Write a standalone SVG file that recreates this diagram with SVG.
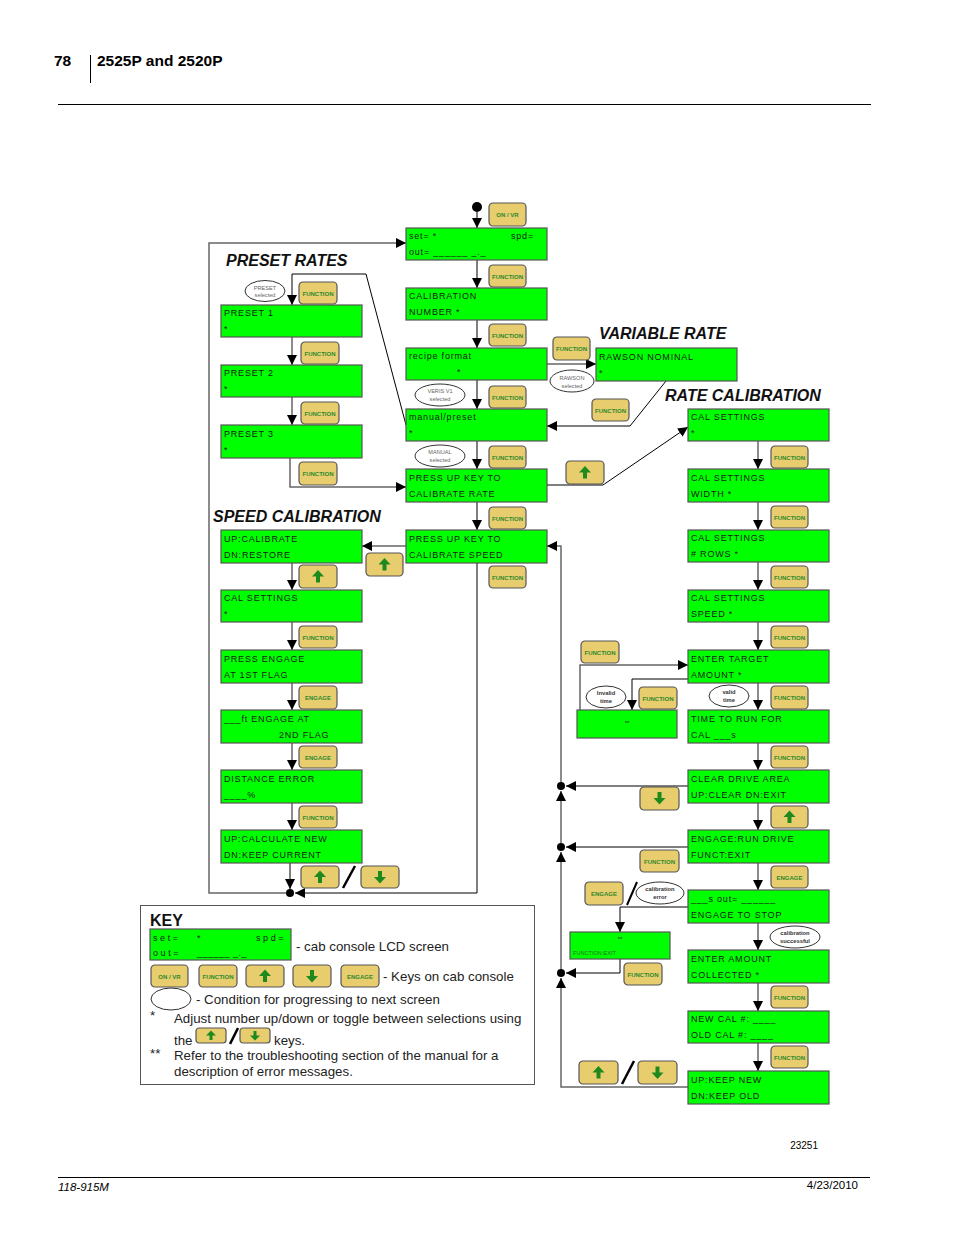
<svg xmlns="http://www.w3.org/2000/svg" width="954" height="1235" viewBox="0 0 954 1235">
<style>
.lcd{fill:#00ff00;stroke:#555;stroke-width:1.2}
.lt{font-family:"Liberation Sans",Arial,sans-serif;font-size:9px;letter-spacing:0.8px;fill:#1a1a1a}
.k{fill:#e8cd6f;stroke:#555;stroke-width:1.2}
.kt{font-family:"Liberation Sans",Arial,sans-serif;font-size:6px;font-weight:bold;fill:#2d8a2d;text-anchor:middle}
.ar{fill:#1e8a1e}
.el{fill:#fff;stroke:#333;stroke-width:1}
.et{font-family:"Liberation Sans",Arial,sans-serif;font-size:5.6px;fill:#666;text-anchor:middle}
.eb{font-family:"Liberation Sans",Arial,sans-serif;font-size:5.8px;font-weight:bold;fill:#333;text-anchor:middle}
.ln{stroke:#666;stroke-width:1.5;fill:none}
.lb{stroke:#000;stroke-width:1;fill:none}
.ti{font-family:"Liberation Sans",Arial,sans-serif;font-size:16px;font-weight:bold;font-style:italic;fill:#111}
.kx{font-family:"Liberation Sans",Arial,sans-serif;font-size:13.3px;fill:#222}
.hd{font-family:"Liberation Sans",Arial,sans-serif;font-size:15.5px;font-weight:bold;fill:#000}
.ft{font-family:"Liberation Sans",Arial,sans-serif;font-size:11.5px;fill:#000}
</style>
<defs>
<marker id="a" viewBox="0 0 10 10" refX="10" refY="5" markerWidth="10" markerHeight="10" markerUnits="userSpaceOnUse" orient="auto"><path d="M0,0 L10,5 L0,10 z" fill="#000"/></marker>
</defs>
<rect width="954" height="1235" fill="#fff"/>
<g id="header">
<text class="hd" x="54" y="66">78</text>
<line x1="90.5" y1="55" x2="90.5" y2="83" stroke="#000" stroke-width="1"/>
<text class="hd" x="97" y="66">2525P and 2520P</text>
<line x1="58" y1="104.5" x2="871" y2="104.5" stroke="#000" stroke-width="1"/>
</g>
<g id="footer">
<text class="ft" x="818" y="1149" text-anchor="end" style="font-size:10px">23251</text>
<line x1="58" y1="1177.5" x2="870" y2="1177.5" stroke="#000" stroke-width="1"/>
<text class="ft" x="58" y="1191" style="font-style:italic">118-915M</text>
<text class="ft" x="858" y="1189" text-anchor="end">4/23/2010</text>
</g>
<g id="titles">
<text class="ti" x="226" y="266">PRESET RATES</text>
<text class="ti" x="213" y="522">SPEED CALIBRATION</text>
<text class="ti" x="599" y="339">VARIABLE RATE</text>
<text class="ti" x="665" y="401">RATE CALIBRATION</text>
</g>
<g id="connectors">
<circle cx="477" cy="207" r="5" fill="#000"/>
<line class="lb" x1="477" y1="212" x2="477" y2="228" marker-end="url(#a)"/>
<line class="lb" x1="477" y1="260" x2="477" y2="288" marker-end="url(#a)"/>
<line class="lb" x1="477" y1="320" x2="477" y2="348" marker-end="url(#a)"/>
<line class="lb" x1="477" y1="380" x2="477" y2="409" marker-end="url(#a)"/>
<line class="lb" x1="477" y1="441" x2="477" y2="469" marker-end="url(#a)"/>
<line class="lb" x1="477" y1="502" x2="477" y2="530" marker-end="url(#a)"/>
<polyline class="lb" points="477,563 477,893 295,893" marker-end="url(#a)"/>
<polyline class="ln" points="286,893 209,893 209,243 406,243" marker-end="url(#a)"/>
<circle cx="290" cy="893" r="4" fill="#000"/>
<polyline class="lb" points="406,425 366,274 292,274 292,305" marker-end="url(#a)"/>
<line class="ln" x1="292" y1="337" x2="292" y2="365" marker-end="url(#a)"/>
<line class="ln" x1="292" y1="397" x2="292" y2="425" marker-end="url(#a)"/>
<polyline class="ln" points="290,458 290,487 406,487" marker-end="url(#a)"/>
<line class="ln" x1="547" y1="364" x2="596" y2="364" marker-end="url(#a)"/>
<polyline class="lb" points="666,381 630,426 547,426" marker-end="url(#a)"/>
<polyline class="lb" points="547,485 603,485 688,427" marker-end="url(#a)"/>
<line class="ln" x1="406" y1="546" x2="362" y2="546" marker-end="url(#a)"/>
<line class="ln" x1="292" y1="563" x2="292" y2="590" marker-end="url(#a)"/>
<line class="ln" x1="292" y1="622" x2="292" y2="650" marker-end="url(#a)"/>
<line class="ln" x1="292" y1="683" x2="292" y2="710" marker-end="url(#a)"/>
<line class="ln" x1="292" y1="743" x2="292" y2="770" marker-end="url(#a)"/>
<line class="ln" x1="292" y1="803" x2="292" y2="830" marker-end="url(#a)"/>
<line class="lb" x1="290" y1="863" x2="290" y2="889" marker-end="url(#a)"/>
<polyline class="ln" points="688,1087 561,1087 561,978" marker-end="url(#a)"/>
<line class="ln" x1="561" y1="969" x2="561" y2="852" marker-end="url(#a)"/>
<line class="ln" x1="561" y1="843" x2="561" y2="791" marker-end="url(#a)"/>
<polyline class="ln" points="561,782 561,546 547,546" marker-end="url(#a)"/>
<circle cx="561" cy="786" r="4" fill="#000"/>
<circle cx="561" cy="847" r="4" fill="#000"/>
<circle cx="561" cy="973" r="4" fill="#000"/>
<line class="lb" x1="688" y1="786" x2="566" y2="786" marker-end="url(#a)"/>
<line class="lb" x1="688" y1="847" x2="566" y2="847" marker-end="url(#a)"/>
<polyline class="lb" points="620,959 620,973 566,973" marker-end="url(#a)"/>
<line class="ln" x1="758" y1="441" x2="758" y2="469" marker-end="url(#a)"/>
<line class="ln" x1="758" y1="502" x2="758" y2="530" marker-end="url(#a)"/>
<line class="ln" x1="758" y1="562" x2="758" y2="590" marker-end="url(#a)"/>
<line class="ln" x1="758" y1="622" x2="758" y2="650" marker-end="url(#a)"/>
<line class="ln" x1="758" y1="683" x2="758" y2="710" marker-end="url(#a)"/>
<line class="ln" x1="758" y1="743" x2="758" y2="770" marker-end="url(#a)"/>
<line class="ln" x1="758" y1="803" x2="758" y2="830" marker-end="url(#a)"/>
<line class="ln" x1="758" y1="863" x2="758" y2="890" marker-end="url(#a)"/>
<line class="ln" x1="758" y1="923" x2="758" y2="950" marker-end="url(#a)"/>
<line class="ln" x1="758" y1="983" x2="758" y2="1011" marker-end="url(#a)"/>
<line class="ln" x1="758" y1="1043" x2="758" y2="1071" marker-end="url(#a)"/>
<polyline class="ln" points="580,710 580,665 688,665" marker-end="url(#a)"/>
<polyline class="lb" points="688,679 632,679 632,710" marker-end="url(#a)"/>
<polyline class="lb" points="688,907 620,907 620,932" marker-end="url(#a)"/>
<line x1="343" y1="888" x2="355" y2="866" stroke="#000" stroke-width="2.5"/>
<line x1="622" y1="1084" x2="634" y2="1061" stroke="#000" stroke-width="2.5"/>
<line x1="627" y1="905" x2="637" y2="882" stroke="#000" stroke-width="2"/>
</g>
<g id="lcd-center">
<g id="n-set"><rect class="lcd" x="406" y="228" width="141" height="32"/><text class="lt" x="409" y="239">set= *</text><text class="lt" x="511" y="239">spd=</text><text class="lt" x="409" y="255">out= ______ _._</text></g>
<g id="n-calnum"><rect class="lcd" x="406" y="288" width="141" height="32"/><text class="lt" x="409" y="299">CALIBRATION</text><text class="lt" x="409" y="315">NUMBER *</text></g>
<g id="n-recipe"><rect class="lcd" x="406" y="348" width="141" height="32"/><text class="lt" x="409" y="359">recipe format</text><text class="lt" x="457" y="375">*</text></g>
<g id="n-manual"><rect class="lcd" x="406" y="409" width="141" height="32"/><text class="lt" x="409" y="420">manual/preset</text><text class="lt" x="409" y="436">*</text></g>
<g id="n-pressrate"><rect class="lcd" x="406" y="469" width="141" height="33"/><text class="lt" x="409" y="481">PRESS UP KEY TO</text><text class="lt" x="409" y="497">CALIBRATE RATE</text></g>
<g id="n-pressspeed"><rect class="lcd" x="406" y="530" width="141" height="33"/><text class="lt" x="409" y="542">PRESS UP KEY TO</text><text class="lt" x="409" y="558">CALIBRATE SPEED</text></g>
</g>
<g id="lcd-left">
<g id="n-p1"><rect class="lcd" x="221" y="305" width="141" height="32"/><text class="lt" x="224" y="316">PRESET 1</text><text class="lt" x="224" y="332">*</text></g>
<g id="n-p2"><rect class="lcd" x="221" y="365" width="141" height="32"/><text class="lt" x="224" y="376">PRESET 2</text><text class="lt" x="224" y="392">*</text></g>
<g id="n-p3"><rect class="lcd" x="221" y="425" width="141" height="33"/><text class="lt" x="224" y="437">PRESET 3</text><text class="lt" x="224" y="453">*</text></g>
<g id="n-upcal"><rect class="lcd" x="221" y="530" width="141" height="33"/><text class="lt" x="224" y="542">UP:CALIBRATE</text><text class="lt" x="224" y="558">DN:RESTORE</text></g>
<g id="n-calset-l"><rect class="lcd" x="221" y="590" width="141" height="32"/><text class="lt" x="224" y="601">CAL SETTINGS</text><text class="lt" x="224" y="617">*</text></g>
<g id="n-press1st"><rect class="lcd" x="221" y="650" width="141" height="33"/><text class="lt" x="224" y="662">PRESS ENGAGE</text><text class="lt" x="224" y="678">AT 1ST FLAG</text></g>
<g id="n-ft2nd"><rect class="lcd" x="221" y="710" width="141" height="33"/><text class="lt" x="224" y="722">___ft ENGAGE AT</text><text class="lt" x="279" y="738">2ND FLAG</text></g>
<g id="n-dist"><rect class="lcd" x="221" y="770" width="141" height="33"/><text class="lt" x="224" y="782">DISTANCE ERROR</text><text class="lt" x="224" y="798">____%</text></g>
<g id="n-calcnew"><rect class="lcd" x="221" y="830" width="141" height="33"/><text class="lt" x="224" y="842">UP:CALCULATE NEW</text><text class="lt" x="224" y="858">DN:KEEP CURRENT</text></g>
</g>
<g id="lcd-right">
<g id="n-rawson"><rect class="lcd" x="596" y="348" width="141" height="33"/><text class="lt" x="599" y="360">RAWSON NOMINAL</text><text class="lt" x="599" y="376">*</text></g>
<g id="n-cs1"><rect class="lcd" x="688" y="409" width="141" height="32"/><text class="lt" x="691" y="420">CAL SETTINGS</text><text class="lt" x="691" y="436">*</text></g>
<g id="n-cs2"><rect class="lcd" x="688" y="469" width="141" height="33"/><text class="lt" x="691" y="481">CAL SETTINGS</text><text class="lt" x="691" y="497">WIDTH  *</text></g>
<g id="n-cs3"><rect class="lcd" x="688" y="530" width="141" height="32"/><text class="lt" x="691" y="541">CAL SETTINGS</text><text class="lt" x="691" y="557"># ROWS  *</text></g>
<g id="n-cs4"><rect class="lcd" x="688" y="590" width="141" height="32"/><text class="lt" x="691" y="601">CAL SETTINGS</text><text class="lt" x="691" y="617">SPEED  *</text></g>
<g id="n-target"><rect class="lcd" x="688" y="650" width="141" height="33"/><text class="lt" x="691" y="662">ENTER TARGET</text><text class="lt" x="691" y="678">AMOUNT *</text></g>
<g id="n-time"><rect class="lcd" x="688" y="710" width="141" height="33"/><text class="lt" x="691" y="722">TIME TO RUN FOR</text><text class="lt" x="691" y="738">CAL ___s</text></g>
<g id="n-clear"><rect class="lcd" x="688" y="770" width="141" height="33"/><text class="lt" x="691" y="782">CLEAR DRIVE AREA</text><text class="lt" x="691" y="798">UP:CLEAR DN:EXIT</text></g>
<g id="n-run"><rect class="lcd" x="688" y="830" width="141" height="33"/><text class="lt" x="691" y="842">ENGAGE:RUN DRIVE</text><text class="lt" x="691" y="858">FUNCT:EXIT</text></g>
<g id="n-sout"><rect class="lcd" x="688" y="890" width="141" height="33"/><text class="lt" x="691" y="902">___s out= ______</text><text class="lt" x="691" y="918">ENGAGE TO STOP</text></g>
<g id="n-collected"><rect class="lcd" x="688" y="950" width="141" height="33"/><text class="lt" x="691" y="962">ENTER AMOUNT</text><text class="lt" x="691" y="978">COLLECTED *</text></g>
<g id="n-newcal"><rect class="lcd" x="688" y="1011" width="141" height="32"/><text class="lt" x="691" y="1022">NEW CAL #: ____</text><text class="lt" x="691" y="1038">OLD CAL #: ____</text></g>
<g id="n-keep"><rect class="lcd" x="688" y="1071" width="141" height="33"/><text class="lt" x="691" y="1083">UP:KEEP NEW</text><text class="lt" x="691" y="1099">DN:KEEP OLD</text></g>
<g id="n-err1"><rect class="lcd" x="577" y="710" width="100" height="28"/><text class="lt" x="627" y="725" text-anchor="middle" style="font-size:6px;letter-spacing:0">**</text></g>
<g id="n-err2"><rect class="lcd" x="570" y="932" width="100" height="27"/><text class="lt" x="620" y="941" text-anchor="middle" style="font-size:6px;letter-spacing:0">**</text><text class="lt" x="573" y="955" style="font-size:5.6px;letter-spacing:0;fill:#2d6a2d">FUNCTION:EXIT</text></g>
</g>
<g id="conditions">
<g><ellipse class="el" cx="265" cy="291" rx="20" ry="10.5"/><text class="et" x="265" y="290">PRESET</text><text class="et" x="265" y="297">selected</text></g>
<g><ellipse class="el" cx="440" cy="395" rx="25" ry="11"/><text class="et" x="440" y="393">VERIS V1</text><text class="et" x="440" y="401">selected</text></g>
<g><ellipse class="el" cx="440" cy="456" rx="25" ry="11"/><text class="et" x="440" y="454">MANUAL</text><text class="et" x="440" y="462">selected</text></g>
<g><ellipse class="el" cx="572" cy="381" rx="22" ry="11"/><text class="et" x="572" y="380">RAWSON</text><text class="et" x="572" y="388">selected</text></g>
<g><ellipse class="el" cx="606" cy="697" rx="20" ry="11"/><text class="eb" x="606" y="695">Invalid</text><text class="eb" x="606" y="703">time</text></g>
<g><ellipse class="el" cx="729" cy="696" rx="20" ry="11"/><text class="eb" x="729" y="694">valid</text><text class="eb" x="729" y="702">time</text></g>
<g><ellipse class="el" cx="660" cy="893" rx="24" ry="11"/><text class="eb" x="660" y="891">calibration</text><text class="eb" x="660" y="899">error</text></g>
<g><ellipse class="el" cx="795" cy="937" rx="25" ry="11"/><text class="eb" x="795" y="935">calibration</text><text class="eb" x="795" y="943">successful</text></g>
</g>
<g id="keys">
<g transform="translate(489,203)"><rect class="k" width="37" height="23" rx="4"/><text class="kt" x="18.5" y="14">ON / VR</text></g>
<g transform="translate(489,265)"><rect class="k" width="37" height="22" rx="4"/><text class="kt" x="18.5" y="13.5">FUNCTION</text></g>
<g transform="translate(489,324)"><rect class="k" width="37" height="22" rx="4"/><text class="kt" x="18.5" y="13.5">FUNCTION</text></g>
<g transform="translate(489,386)"><rect class="k" width="37" height="22" rx="4"/><text class="kt" x="18.5" y="13.5">FUNCTION</text></g>
<g transform="translate(489,446)"><rect class="k" width="37" height="22" rx="4"/><text class="kt" x="18.5" y="13.5">FUNCTION</text></g>
<g transform="translate(489,507)"><rect class="k" width="37" height="22" rx="4"/><text class="kt" x="18.5" y="13.5">FUNCTION</text></g>
<g transform="translate(489,566)"><rect class="k" width="37" height="22" rx="4"/><text class="kt" x="18.5" y="13.5">FUNCTION</text></g>
<g transform="translate(553,337)"><rect class="k" width="37" height="23" rx="4"/><text class="kt" x="18.5" y="14">FUNCTION</text></g>
<g transform="translate(592,399)"><rect class="k" width="37" height="22" rx="4"/><text class="kt" x="18.5" y="13.5">FUNCTION</text></g>
<g transform="translate(566,461)"><rect class="k" width="38" height="23" rx="4"/><path class="ar" d="M19,5 l-6,6.5 h4 v6 h4 v-6 h4 z"/></g>
<g transform="translate(366,553)"><rect class="k" width="37" height="23" rx="4"/><path class="ar" d="M18.5,5 l-6,6.5 h4 v6 h4 v-6 h4 z"/></g>
<g transform="translate(299,282)"><rect class="k" width="38" height="22" rx="4"/><text class="kt" x="19" y="13.5">FUNCTION</text></g>
<g transform="translate(301,342)"><rect class="k" width="38" height="22" rx="4"/><text class="kt" x="19" y="13.5">FUNCTION</text></g>
<g transform="translate(301,402)"><rect class="k" width="38" height="22" rx="4"/><text class="kt" x="19" y="13.5">FUNCTION</text></g>
<g transform="translate(299,462)"><rect class="k" width="38" height="23" rx="4"/><text class="kt" x="19" y="14">FUNCTION</text></g>
<g transform="translate(299,565)"><rect class="k" width="38" height="23" rx="4"/><path class="ar" d="M19,5 l-6,6.5 h4 v6 h4 v-6 h4 z"/></g>
<g transform="translate(299,626)"><rect class="k" width="38" height="22" rx="4"/><text class="kt" x="19" y="13.5">FUNCTION</text></g>
<g transform="translate(299,686)"><rect class="k" width="38" height="23" rx="4"/><text class="kt" x="19" y="14">ENGAGE</text></g>
<g transform="translate(299,746)"><rect class="k" width="38" height="22" rx="4"/><text class="kt" x="19" y="13.5">ENGAGE</text></g>
<g transform="translate(299,806)"><rect class="k" width="38" height="22" rx="4"/><text class="kt" x="19" y="13.5">FUNCTION</text></g>
<g transform="translate(301,866)"><rect class="k" width="38" height="22" rx="4"/><path class="ar" d="M19,4.5 l-6,6.5 h4 v6 h4 v-6 h4 z"/></g>
<g transform="translate(361,866)"><rect class="k" width="38" height="22" rx="4"/><path class="ar" d="M19,17.5 l-6,-6.5 h4 v-6 h4 v6 h4 z"/></g>
<g transform="translate(771,446)"><rect class="k" width="37" height="22" rx="4"/><text class="kt" x="18.5" y="13.5">FUNCTION</text></g>
<g transform="translate(771,506)"><rect class="k" width="37" height="22" rx="4"/><text class="kt" x="18.5" y="13.5">FUNCTION</text></g>
<g transform="translate(771,566)"><rect class="k" width="37" height="22" rx="4"/><text class="kt" x="18.5" y="13.5">FUNCTION</text></g>
<g transform="translate(771,626)"><rect class="k" width="37" height="22" rx="4"/><text class="kt" x="18.5" y="13.5">FUNCTION</text></g>
<g transform="translate(771,686)"><rect class="k" width="37" height="23" rx="4"/><text class="kt" x="18.5" y="14">FUNCTION</text></g>
<g transform="translate(771,746)"><rect class="k" width="37" height="22" rx="4"/><text class="kt" x="18.5" y="13.5">FUNCTION</text></g>
<g transform="translate(771,806)"><rect class="k" width="37" height="22" rx="4"/><path class="ar" d="M18.5,4.5 l-6,6.5 h4 v6 h4 v-6 h4 z"/></g>
<g transform="translate(771,866)"><rect class="k" width="37" height="22" rx="4"/><text class="kt" x="18.5" y="13.5">ENGAGE</text></g>
<g transform="translate(771,986)"><rect class="k" width="37" height="22" rx="4"/><text class="kt" x="18.5" y="13.5">FUNCTION</text></g>
<g transform="translate(771,1046)"><rect class="k" width="37" height="22" rx="4"/><text class="kt" x="18.5" y="13.5">FUNCTION</text></g>
<g transform="translate(581,641)"><rect class="k" width="38" height="22" rx="4"/><text class="kt" x="19" y="13.5">FUNCTION</text></g>
<g transform="translate(639,687)"><rect class="k" width="38" height="22" rx="4"/><text class="kt" x="19" y="13.5">FUNCTION</text></g>
<g transform="translate(640,787)"><rect class="k" width="39" height="23" rx="4"/><path class="ar" d="M19.5,17.5 l-6,-6.5 h4 v-6 h4 v6 h4 z"/></g>
<g transform="translate(640,850)"><rect class="k" width="39" height="22" rx="4"/><text class="kt" x="19.5" y="13.5">FUNCTION</text></g>
<g transform="translate(585,882)"><rect class="k" width="38" height="23" rx="4"/><text class="kt" x="19" y="14">ENGAGE</text></g>
<g transform="translate(624,963)"><rect class="k" width="38" height="22" rx="4"/><text class="kt" x="19" y="13.5">FUNCTION</text></g>
<g transform="translate(579,1061)"><rect class="k" width="39" height="23" rx="4"/><path class="ar" d="M19.5,5 l-6,6.5 h4 v6 h4 v-6 h4 z"/></g>
<g transform="translate(638,1061)"><rect class="k" width="39" height="23" rx="4"/><path class="ar" d="M19.5,18 l-6,-6.5 h4 v-6 h4 v6 h4 z"/></g>
</g>
<g id="legend">
<rect x="140.5" y="905.5" width="394" height="179" fill="#fff" stroke="#555" stroke-width="1"/>
<text x="150" y="926" font-family="Liberation Sans, Arial, sans-serif" font-size="16" font-weight="bold" fill="#111">KEY</text>
<rect class="lcd" x="150" y="929" width="141" height="31"/>
<text class="lt" x="153" y="941" style="letter-spacing:2.6px">set=</text><text class="lt" x="197" y="941">*</text><text class="lt" x="256" y="941" style="letter-spacing:2.6px">spd=</text>
<text class="lt" x="153" y="956" style="letter-spacing:2.6px">out=</text><text class="lt" x="197" y="956" style="letter-spacing:0.5px">______  _._</text>
<text class="kx" x="296" y="951">- cab console LCD screen</text>
<g transform="translate(151,965)"><rect class="k" width="37" height="22" rx="4"/><text class="kt" x="18.5" y="13.5">ON / VR</text></g>
<g transform="translate(199,965)"><rect class="k" width="38" height="22" rx="4"/><text class="kt" x="19" y="13.5">FUNCTION</text></g>
<g transform="translate(246,965)"><rect class="k" width="38" height="22" rx="4"/><path class="ar" d="M19,4.5 l-6,6.5 h4 v6 h4 v-6 h4 z"/></g>
<g transform="translate(293,965)"><rect class="k" width="38" height="22" rx="4"/><path class="ar" d="M19,17.5 l-6,-6.5 h4 v-6 h4 v6 h4 z"/></g>
<g transform="translate(341,965)"><rect class="k" width="38" height="22" rx="4"/><text class="kt" x="19" y="13.5">ENGAGE</text></g>
<text class="kx" x="383" y="981">- Keys on cab console</text>
<ellipse class="el" cx="171" cy="999" rx="20" ry="11"/>
<text class="kx" x="196" y="1004">- Condition for progressing to next screen</text>
<text class="kx" x="150" y="1020">*</text>
<text class="kx" x="174" y="1023">Adjust number up/down or toggle between selections using</text>
<text class="kx" x="174" y="1045">the</text>
<g transform="translate(196,1028)"><rect class="k" width="30" height="15" rx="3"/><path class="ar" d="M15,2.5 l-5,5 h3.5 v4.5 h3 v-4.5 h3.5 z"/></g>
<line x1="230" y1="1044" x2="238" y2="1028" stroke="#000" stroke-width="2.5"/>
<g transform="translate(240,1028)"><rect class="k" width="30" height="15" rx="3"/><path class="ar" d="M15,12.5 l-5,-5 h3.5 v-4.5 h3 v4.5 h3.5 z"/></g>
<text class="kx" x="274" y="1045">keys.</text>
<text class="kx" x="150" y="1058">**</text>
<text class="kx" x="174" y="1060">Refer to the troubleshooting section of the manual for a</text>
<text class="kx" x="174" y="1076">description of error messages.</text>
</g>
</svg>
